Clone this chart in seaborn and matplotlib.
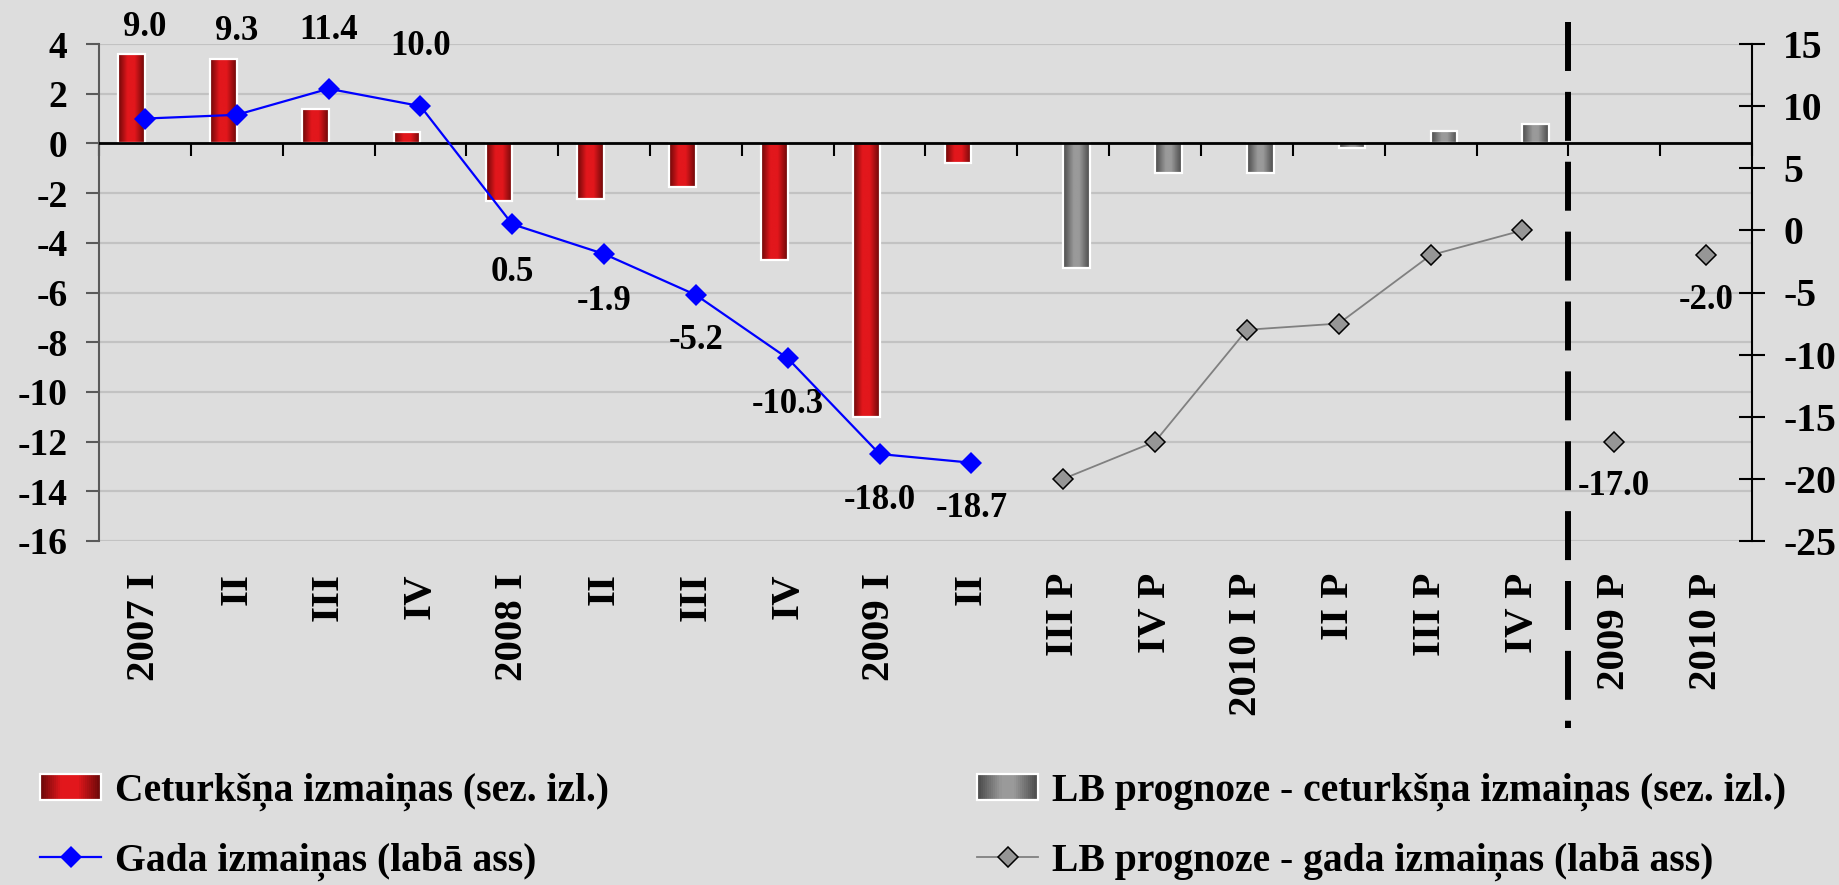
import numpy as np
import pandas as pd
import matplotlib
matplotlib.use("Agg")
import matplotlib.pyplot as plt
import matplotlib.transforms as mtransforms
import seaborn as sns
from matplotlib.colors import LinearSegmentedColormap
from matplotlib.patches import Rectangle
from matplotlib.lines import Line2D
from matplotlib.legend_handler import HandlerBase

# periods (unique keys) and what is printed under them
periods = ["2007Q1", "2007Q2", "2007Q3", "2007Q4", "2008Q1", "2008Q2", "2008Q3", "2008Q4",
           "2009Q1", "2009Q2", "2009Q3", "2009Q4", "2010Q1", "2010Q2", "2010Q3", "2010Q4",
           "2009", "2010"]
tick_labels = ["2007 I", "II", "III", "IV", "2008 I", "II", "III", "IV", "2009 I", "II",
               "III P", "IV P", "2010 I P", "II P", "III P", "IV P", "2009 P", "2010 P"]

# quarterly change, s.a. (left axis)
q_actual = [3.6, 3.4, 1.4, 0.45, -2.3, -2.25, -1.75, -4.7, -11.0, -0.8]
q_forecast = [-5.0, -1.2, -1.2, -0.2, 0.5, 0.8]
# annual change (right axis)
y_actual = [9.0, 9.3, 11.4, 10.0, 0.5, -1.9, -5.2, -10.3, -18.0, -18.7]
y_forecast_q = [-20.0, -17.0, -8.0, -7.5, -2.0, 0.0]
y_forecast_year = [-17.0, -2.0]

lab_red = "Ceturkšņa izmaiņas (sez. izl.)"
lab_gray = "LB prognoze - ceturkšņa izmaiņas (sez. izl.)"
lab_blue = "Gada izmaiņas (labā ass)"
lab_graydot = "LB prognoze - gada izmaiņas (labā ass)"

plt.rcParams["font.family"] = ["Liberation Serif", "DejaVu Serif"]
plt.rcParams["font.weight"] = "bold"
plt.rcParams["axes.unicode_minus"] = False
bg = "#dddddd"

bars = pd.DataFrame({
    "period": periods[:10] + periods[10:16],
    "value": q_actual + q_forecast,
    "series": [lab_red] * 10 + [lab_gray] * 6,
})
pos = np.arange(len(periods))

fig = plt.figure(figsize=(18.4, 8.85), dpi=100, facecolor=bg)
ax = fig.add_axes([99 / 1840, 1 - 541 / 885, (1752 - 99) / 1840, (541 - 44) / 885])
ax.set_facecolor(bg)

sns.barplot(data=bars, x="period", y="value", hue="series", order=periods,
            hue_order=[lab_red, lab_gray], width=0.58, dodge=True, errorbar=None,
            palette=["#c01015", "#808080"], edgecolor="white", linewidth=1.6,
            legend=False, ax=ax)

red_cmap = LinearSegmentedColormap.from_list("r", [(0, "#6b0808"), (0.35, "#e2171c"), (0.62, "#e2171c"), (1, "#6b0808")])
gray_cmap = LinearSegmentedColormap.from_list("g", [(0, "#4a4a4a"), (0.4, "#9a9a9a"), (0.6, "#9a9a9a"), (1, "#4a4a4a")])
grad = np.linspace(0, 1, 64).reshape(1, -1)
for cont, cmap in zip(ax.containers, [red_cmap, gray_cmap]):
    for bar in cont:
        x0, y0, w, h = bar.get_x(), bar.get_y(), bar.get_width(), bar.get_height()
        ax.imshow(grad, cmap=cmap, extent=[x0, x0 + w, y0, y0 + h], aspect="auto",
                  interpolation="bilinear", zorder=1.5)
        bar.set_facecolor("none")
        bar.set_zorder(2)

ax.set_xlim(-0.5, 17.5)
ax.set_ylim(-16, 4)
ax.set_yticks(np.arange(-16, 5, 2))
ax.set_axisbelow(True)
ax.yaxis.grid(True, color="#c2c2c2", lw=1.6)
ax.xaxis.grid(False)
ax.axhline(0, color="black", lw=2, zorder=3)
for s in ["top", "right", "bottom"]:
    ax.spines[s].set_visible(False)
ax.spines["left"].set_color("#5a5a5a")
ax.spines["left"].set_linewidth(1.5)
ax.tick_params(axis="y", direction="out", length=9.5, width=1.5, color="#5a5a5a",
               labelsize=27, pad=13)
ax.set_xticks(pos)
ax.set_xticklabels(tick_labels, rotation=90, fontsize=29.5, va="top", ha="center")
ax.tick_params(axis="x", length=0, pad=23)
ax.set_xlabel("")
ax.set_ylabel("")

# category axis crossing at zero, ticks between categories
secax = ax.secondary_xaxis(16 / 20)
secax.set_alignment("bottom")
secax.set_xticks(np.arange(-0.5, 18, 1))
secax.set_xticklabels([])
secax.tick_params(axis="x", direction="out", length=9.5, width=1.5, color="black")
secax.spines["bottom"].set_visible(False)

ax2 = ax.twinx()
ax2.set_ylim(-25, 15)
ax2.set_yticks(np.arange(-25, 16, 5))
for s in ["top", "left", "bottom"]:
    ax2.spines[s].set_visible(False)
ax2.spines["right"].set_color("black")
ax2.spines["right"].set_linewidth(1.5)
ax2.tick_params(axis="y", direction="inout", length=19, width=1.5, color="black",
                labelsize=28.5, pad=13)

sns.lineplot(x=pos[:10], y=y_actual, ax=ax2, color="blue", lw=1.6, marker="D",
             markersize=11, markeredgewidth=0, zorder=5)
sns.lineplot(x=pos[10:16], y=y_forecast_q, ax=ax2, color="#808080", lw=1.3, marker="D",
             markersize=10.5, markerfacecolor="#969696", markeredgecolor="black",
             markeredgewidth=1.1, zorder=5)
ax2.plot(pos[16:], y_forecast_year, ls="none", marker="D", markersize=10.5,
         markerfacecolor="#969696", markeredgecolor="black", markeredgewidth=1.1, zorder=5)
ax2.set_xlim(-0.5, 17.5)

# data labels (offsets in pixels)
blue_off = [-91, -83, -58, -60, 48, 48, 46, 46, 46, 46]
for x, v, off in zip(pos[:10], y_actual, blue_off):
    ax2.annotate(f"{v:.1f}", (x, v), xytext=(0, -off), textcoords="offset pixels",
                 ha="center", va="center", fontsize=25)
for x, v in zip(pos[16:], y_forecast_year):
    ax2.annotate(f"{v:.1f}", (x, v), xytext=(0, -45), textcoords="offset pixels",
                 ha="center", va="center", fontsize=25)

# dashed separator between quarterly and annual forecasts
tr = mtransforms.blended_transform_factory(ax.transData, fig.transFigure)
ax.plot([15.5, 15.5], [1 - 22 / 885, 1 - 728 / 885], transform=tr, color="black",
        lw=4.3, ls=(0, (8.2, 3.5)), solid_capstyle="butt", dash_capstyle="butt",
        clip_on=False, zorder=6)


class GradientHandler(HandlerBase):
    def __init__(self, cmap):
        super().__init__()
        self.cmap = cmap

    def create_artists(self, legend, orig_handle, xdescent, ydescent, width, height,
                       fontsize, trans):
        n = 30
        arts = []
        for i in range(n):
            arts.append(Rectangle((-xdescent + width * i / n, -ydescent), width / n * 1.08,
                                  height, facecolor=self.cmap(i / (n - 1)),
                                  edgecolor="none", transform=trans))
        arts.append(Rectangle((-xdescent, -ydescent), width, height, facecolor="none",
                              edgecolor="white", lw=1.6, transform=trans))
        return arts


h_red = Rectangle((0, 0), 1, 1)
h_gray = Rectangle((0, 0), 1, 1)
h_blue = Line2D([], [], color="blue", lw=1.6, marker="D", markersize=11, markeredgewidth=0)
h_graydot = Line2D([], [], color="#808080", lw=1.3, marker="D", markersize=10.5,
                   markerfacecolor="#969696", markeredgecolor="black", markeredgewidth=1.1)

leg_kw = dict(loc="center left", frameon=False, borderpad=0, borderaxespad=0,
              handlelength=1.55, handleheight=0.65, handletextpad=0.35,
              labelspacing=0.8, prop={"size": 28.5, "weight": "bold"})
fig.legend([h_red, h_blue], [lab_red, lab_blue], bbox_to_anchor=(40 / 1840, 1 - 827 / 885),
           handler_map={h_red: GradientHandler(red_cmap)}, **leg_kw)
fig.legend([h_gray, h_graydot], [lab_gray, lab_graydot],
           bbox_to_anchor=(977 / 1840, 1 - 827 / 885),
           handler_map={h_gray: GradientHandler(gray_cmap)}, **leg_kw)

fig.savefig("out.png", dpi=100, facecolor=bg)
